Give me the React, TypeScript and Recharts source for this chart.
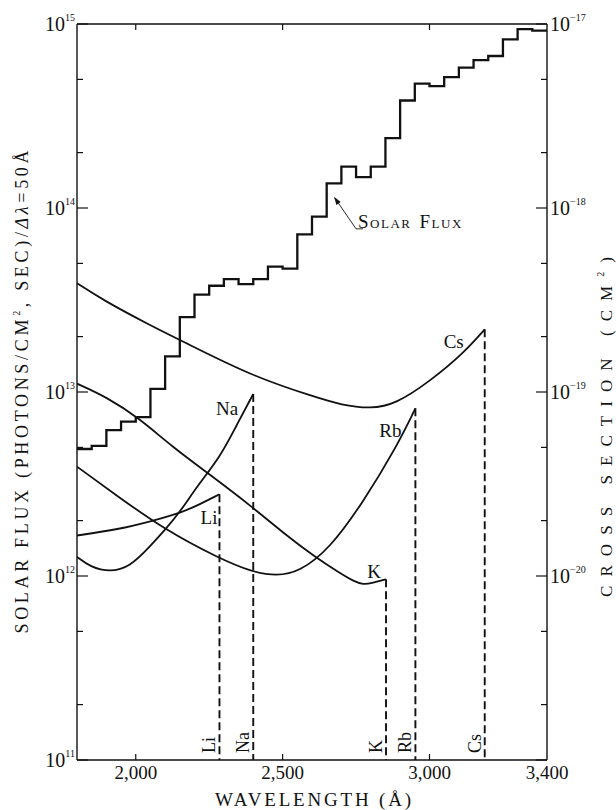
import React from 'react';
import { ComposedChart, Line, XAxis, YAxis, ReferenceDot, ReferenceLine } from 'recharts';

const FONT = "'Liberation Serif', 'DejaVu Serif', serif";
const INK = '#111';
const TS: React.CSSProperties = { fontFamily: FONT };

// ---- Solar flux, 50 Å bins (photons / cm^2 s per 50 Å) ----
const FLUX_BIN_START = [
  1800, 1850, 1900, 1950, 2000, 2050, 2100, 2150, 2200, 2250, 2300, 2350, 2400, 2450, 2500, 2550,
  2600, 2650, 2700, 2750, 2800, 2850, 2900, 2950, 3000, 3050, 3100, 3150, 3200, 3250, 3300, 3350,
];
const FLUX_BIN_END = 3400;
const SOLAR_FLUX = [
  4.9e12, 5.1e12, 6.2e12, 6.9e12, 7.3e12, 1.04e13, 1.56e13, 2.55e13, 3.38e13, 3.78e13, 4.11e13,
  3.86e13, 4.11e13, 4.8e13, 4.68e13, 7.18e13, 8.97e13, 1.36e14, 1.68e14, 1.47e14, 1.68e14, 2.4e14,
  3.84e14, 4.74e14, 4.6e14, 5.14e14, 5.8e14, 6.37e14, 6.7e14, 8.26e14, 9.39e14, 9.2e14,
];

// ---- Photoionization cross sections (cm^2) ----
const LI_WL = [1800, 1940, 2060, 2155, 2220, 2285];
const LI_CS = [1.66e-20, 1.79e-20, 2.0e-20, 2.21e-20, 2.46e-20, 2.78e-20];

const NA_WL = [1800, 1845, 1912, 1980, 2047, 2100, 2155, 2208, 2288, 2340, 2400];
const NA_CS = [1.27e-20, 1.12e-20, 1.05e-20, 1.12e-20, 1.44e-20, 1.78e-20, 2.28e-20, 3.06e-20, 4.45e-20, 6.45e-20, 9.75e-20];

const K_WL = [1800, 1900, 2007, 2127, 2248, 2396, 2503, 2610, 2690, 2745, 2775, 2800, 2852];
const K_CS = [1.11e-19, 9.4e-20, 7.3e-20, 5.0e-20, 3.6e-20, 2.38e-20, 1.71e-20, 1.27e-20, 1.05e-20, 9.3e-21, 9.0e-21, 9.1e-21, 9.6e-21];

const RB_WL = [1800, 1940, 2100, 2282, 2396, 2480, 2556, 2661, 2774, 2888, 2952];
const RB_CS = [3.93e-20, 2.7e-20, 1.78e-20, 1.25e-20, 1.05e-20, 1.0e-20, 1.05e-20, 1.41e-20, 2.52e-20, 5.04e-20, 8.15e-20];

const CS_WL = [1800, 1890, 2048, 2150, 2400, 2610, 2700, 2800, 2885, 3000, 3115, 3188];
const CS_CS = [3.9e-19, 3.15e-19, 2.31e-19, 1.92e-19, 1.21e-19, 9.4e-20, 8.5e-20, 8.1e-20, 8.6e-20, 1.14e-19, 1.62e-19, 2.19e-19];

const ELEMENT_NAMES = ['Li', 'Na', 'K', 'Rb', 'Cs'];
const ELEMENT_WL = [LI_WL, NA_WL, K_WL, RB_WL, CS_WL];
const ELEMENT_CS = [LI_CS, NA_CS, K_CS, RB_CS, CS_CS];

// ---- Axes ----
const WL_DOMAIN = [1800, 3400];
const WL_TICKS = [2000, 2500, 3000, 3400];
const WL_TICK_LABELS = ['2,000', '2,500', '3,000', '3,400'];
const FLUX_DOMAIN = [1e11, 1e15];
const FLUX_TICKS = [1e11, 2e11, 5e11, 1e12, 2e12, 5e12, 1e13, 2e13, 5e13, 1e14, 2e14, 5e14, 1e15];
const CS_DOMAIN = [1e-21, 1e-17];
const CS_TICKS = [1e-21, 2e-21, 5e-21, 1e-20, 2e-20, 5e-20, 1e-19, 2e-19, 5e-19, 1e-18, 2e-18, 5e-18, 1e-17];

// label placement (layout only)
const CURVE_LABEL_OFFSET: Record<string, [number, number]> = {
  Li: [-2, 30],
  Na: [-15, 21],
  K: [-5, -1],
  Rb: [-14, 29],
  Cs: [-21, 19],
};

const W = 616;
const H = 810;
const PLOT_TOP = 24;

const fluxData = [
  ...FLUX_BIN_START.map((wl, i) => ({ wl, flux: SOLAR_FLUX[i] })),
  { wl: FLUX_BIN_END, flux: SOLAR_FLUX[SOLAR_FLUX.length - 1] },
];

const curveData = ELEMENT_NAMES.map((name, k) =>
  ELEMENT_WL[k].map((wl, i) => ({ wl, cs: ELEMENT_CS[k][i] }))
);

const edgeData = curveData.map((pts) => {
  const last = pts[pts.length - 1];
  return [
    { wl: last.wl, cs: last.cs },
    { wl: last.wl, cs: CS_DOMAIN[0] },
  ];
});

function isDecade(v: number) {
  const e = Math.round(Math.log10(v));
  return { e, major: Math.abs(v / Math.pow(10, e) - 1) < 1e-6 };
}

function LeftTick(props: any) {
  const { x, y, payload } = props;
  const { e, major } = isDecade(payload.value);
  return (
    <g>
      <line x1={x} x2={x + (major ? 11 : 6)} y1={y} y2={y} stroke={INK} strokeWidth={1.2} />
      {major && (
        <text x={x - 2} y={y + 7} textAnchor="end" style={TS} fontSize={20} fill={INK}>
          10
          <tspan fontSize={10} dy={-10}>
            {e}
          </tspan>
        </text>
      )}
    </g>
  );
}

function RightTick(props: any) {
  const { x, y, payload } = props;
  const { e, major } = isDecade(payload.value);
  const showLabel = major && e > -21;
  return (
    <g>
      <line x1={x} x2={x - (major ? 11 : 6)} y1={y} y2={y} stroke={INK} strokeWidth={1.2} />
      {showLabel && (
        <text x={x + 3} y={y + 7} textAnchor="start" style={TS} fontSize={20} fill={INK}>
          10
          <tspan fontSize={10} dy={-10}>
            {'\u2212' + Math.abs(e)}
          </tspan>
        </text>
      )}
    </g>
  );
}

function BottomTick(props: any) {
  const { x, y, payload } = props;
  const v = payload.value;
  const idx = WL_TICKS.indexOf(v);
  const inner = v > WL_DOMAIN[0] && v < WL_DOMAIN[1];
  return (
    <g>
      {inner && <line x1={x} x2={x} y1={y} y2={y - 6} stroke={INK} strokeWidth={1.2} />}
      {inner && <line x1={x} x2={x} y1={PLOT_TOP} y2={PLOT_TOP + 6} stroke={INK} strokeWidth={1.2} />}
      <text x={x} y={y + 19} textAnchor="middle" style={TS} fontSize={19} fill={INK}>
        {idx >= 0 ? WL_TICK_LABELS[idx] : String(v)}
      </text>
    </g>
  );
}

function SolarFluxNote(props: any) {
  const { cx, cy } = props;
  const tx = cx + 22;
  const ty = cy + 32;
  const len = Math.hypot(tx - cx, ty - cy);
  const ux = (tx - cx) / len;
  const uy = (ty - cy) / len;
  const ah = 8;
  const aw = 2.6;
  const bx = cx + ux * ah;
  const by = cy + uy * ah;
  return (
    <g>
      <line x1={cx + ux * 2} y1={cy + uy * 2} x2={tx} y2={ty} stroke={INK} strokeWidth={0.9} />
      <line x1={tx} y1={ty} x2={tx + 7} y2={ty} stroke={INK} strokeWidth={0.9} />
      <polygon
        points={`${cx},${cy} ${bx - uy * aw},${by + ux * aw} ${bx + uy * aw},${by - ux * aw}`}
        fill={INK}
      />
      <text x={tx + 2} y={ty - 1} style={TS} fontSize={19} fill={INK} letterSpacing={1.5}>
        S<tspan fontSize={13}>OLAR</tspan>
        <tspan dx={8}>F</tspan>
        <tspan fontSize={13}>LUX</tspan>
      </text>
    </g>
  );
}

export default function App() {
  return (
    <div style={{ position: 'absolute', left: 0, top: 0, width: W, height: H, background: '#fff', fontFamily: FONT }}>
      <ComposedChart width={W} height={H} margin={{ top: PLOT_TOP, right: 0, bottom: 0, left: 0 }}>
        <XAxis
          dataKey="wl"
          type="number"
          domain={WL_DOMAIN}
          ticks={WL_TICKS}
          interval={0}
          allowDataOverflow
          height={50}
          tickSize={0}
          tickMargin={0}
          tickLine={false}
          axisLine={{ stroke: INK, strokeWidth: 1.4 }}
          tick={<BottomTick />}
        />
        <YAxis
          yAxisId="flux"
          orientation="left"
          type="number"
          scale="log"
          domain={FLUX_DOMAIN}
          ticks={FLUX_TICKS}
          interval={0}
          allowDataOverflow
          width={77}
          tickSize={0}
          tickMargin={0}
          tickLine={false}
          axisLine={{ stroke: INK, strokeWidth: 1.4 }}
          tick={<LeftTick />}
        />
        <YAxis
          yAxisId="cs"
          orientation="right"
          type="number"
          scale="log"
          domain={CS_DOMAIN}
          ticks={CS_TICKS}
          interval={0}
          allowDataOverflow
          width={69}
          tickSize={0}
          tickMargin={0}
          tickLine={false}
          axisLine={{ stroke: INK, strokeWidth: 1.4 }}
          tick={<RightTick />}
        />
        <ReferenceLine yAxisId="flux" y={FLUX_DOMAIN[1]} stroke={INK} strokeWidth={1.4} ifOverflow="visible" />

        {curveData.map((pts, k) => (
          <Line
            key={ELEMENT_NAMES[k]}
            data={pts}
            dataKey="cs"
            yAxisId="cs"
            type="basis"
            stroke={INK}
            strokeWidth={1.8}
            dot={false}
            activeDot={false}
            isAnimationActive={false}
          />
        ))}
        {edgeData.map((pts, k) => (
          <Line
            key={'edge-' + ELEMENT_NAMES[k]}
            data={pts}
            dataKey="cs"
            yAxisId="cs"
            type="linear"
            stroke={INK}
            strokeWidth={1.9}
            strokeDasharray="8 4"
            dot={false}
            activeDot={false}
            isAnimationActive={false}
          />
        ))}
        <Line
          data={fluxData}
          dataKey="flux"
          yAxisId="flux"
          type="stepAfter"
          stroke={INK}
          strokeWidth={2.3}
          dot={false}
          activeDot={false}
          isAnimationActive={false}
        />

        {curveData.map((pts, k) => {
          const last = pts[pts.length - 1];
          const name = ELEMENT_NAMES[k];
          const [dx, dy] = CURVE_LABEL_OFFSET[name];
          return (
            <ReferenceDot
              key={'lab-' + name}
              yAxisId="cs"
              x={last.wl}
              y={last.cs}
              r={0}
              ifOverflow="visible"
              shape={(p: any) => (
                <text x={p.cx + dx} y={p.cy + dy} textAnchor="end" style={TS} fontSize={19} fill={INK}>
                  {name}
                </text>
              )}
            />
          );
        })}
        {curveData.map((pts, k) => {
          const last = pts[pts.length - 1];
          const name = ELEMENT_NAMES[k];
          return (
            <ReferenceDot
              key={'edge-lab-' + name}
              yAxisId="cs"
              x={last.wl}
              y={CS_DOMAIN[0]}
              r={0}
              ifOverflow="visible"
              shape={(p: any) => (
                <text
                  transform={`translate(${p.cx - 4},${p.cy - 7}) rotate(-90)`}
                  textAnchor="start"
                  style={TS}
                  fontSize={18}
                  fill={INK}
                >
                  {name}
                </text>
              )}
            />
          );
        })}
        <ReferenceDot
          yAxisId="flux"
          x={2675}
          y={1.15e14}
          r={0}
          ifOverflow="visible"
          shape={(p: any) => <SolarFluxNote {...p} />}
        />
      </ComposedChart>
      <svg
        width={W}
        height={H}
        style={{ position: 'absolute', left: 0, top: 0, pointerEvents: 'none' }}
      >
        <text
          transform="translate(28,392) rotate(-90)"
          textAnchor="middle"
          style={TS}
          fontSize={18}
          fill={INK}
          textLength={483}
          lengthAdjust="spacing"
        >
          SOLAR FLUX (PHOTONS/CM<tspan fontSize={10} dy={-8}>2</tspan>
          <tspan dy={8}>, SEC)/</tspan>
          <tspan fontStyle="italic">Δλ</tspan>=50Å
        </text>
        <text
          transform="translate(612,427) rotate(-90)"
          textAnchor="middle"
          style={TS}
          fontSize={17}
          fill={INK}
          textLength={340}
          lengthAdjust="spacing"
        >
          CROSS SECTION (CM<tspan fontSize={10} dy={-8}>2</tspan>
          <tspan dy={8}>)</tspan>
        </text>
        <text
          x={313}
          y={806}
          textAnchor="middle"
          style={TS}
          fontSize={19}
          fill={INK}
          textLength={196}
          lengthAdjust="spacing"
        >
          WAVELENGTH (Å)
        </text>
      </svg>
    </div>
  );
}
